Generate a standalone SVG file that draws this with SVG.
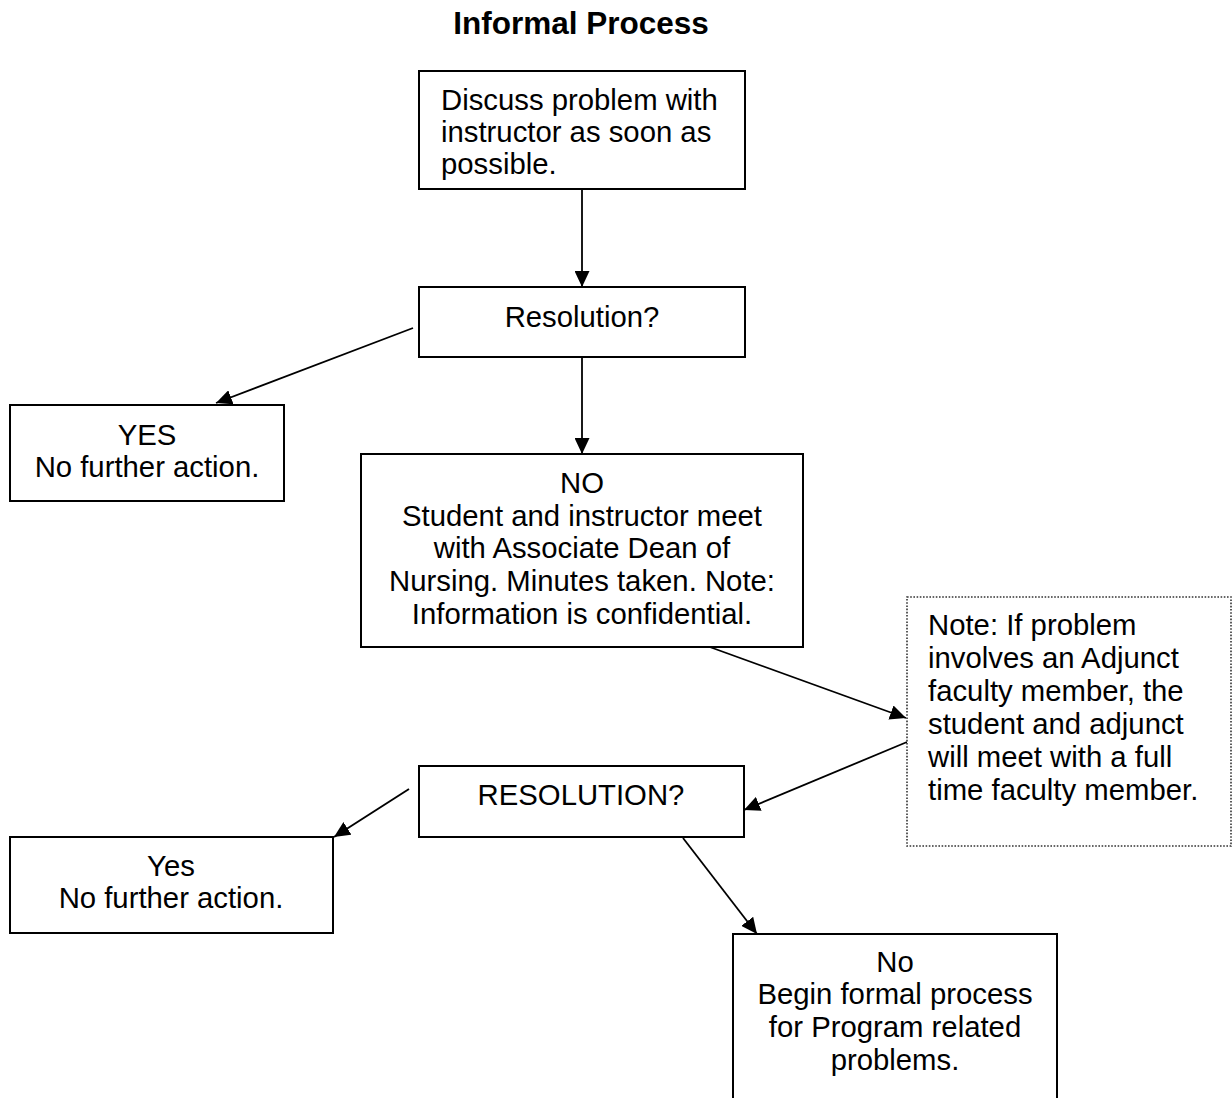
<svg xmlns="http://www.w3.org/2000/svg" width="1232" height="1098" viewBox="0 0 1232 1098">
<defs>
<style>
text{font-family:"Liberation Sans",Arial,sans-serif;font-size:29.3px;fill:#000}
.t{font-weight:bold;font-size:31.5px;text-anchor:middle}
.c{text-anchor:middle}
.box{fill:#fff;stroke:#000;stroke-width:2}
.dot{fill:#fff;stroke:#333;stroke-width:1.6;stroke-dasharray:1.6 1.6}
.con line{stroke:#000;stroke-width:1.8;marker-end:url(#ah)}
</style>
<marker id="ah" viewBox="0 0 16 15" refX="16" refY="7.5" markerWidth="16" markerHeight="15" markerUnits="userSpaceOnUse" orient="auto">
<path d="M0,0 L16,7.5 L0,15 z" fill="#000"/>
</marker>
</defs>
<rect width="1232" height="1098" fill="#fff"/>
<text class="t" x="581" y="34">Informal Process</text>

<g class="con" id="connectors">
<line x1="582" y1="189" x2="582" y2="287"/>
<line x1="413" y1="328" x2="216" y2="403"/>
<line x1="582" y1="357" x2="582" y2="454"/>
<line x1="707" y1="646" x2="906" y2="718"/>
<line x1="907" y1="742" x2="744" y2="810"/>
<line x1="409" y1="789" x2="334" y2="837"/>
<line x1="683" y1="838" x2="757" y2="934"/>
</g>

<g id="n1">
<rect class="box" x="419" y="71" width="326" height="118"/>
<text x="441" y="110">Discuss problem with</text>
<text x="441" y="142">instructor as soon as</text>
<text x="441" y="174">possible.</text>
</g>

<g id="n2">
<rect class="box" x="419" y="287" width="326" height="70"/>
<text class="c" x="582" y="327">Resolution?</text>
</g>

<g id="n3">
<rect class="box" x="10" y="405" width="274" height="96"/>
<text class="c" x="147" y="445">YES</text>
<text class="c" x="147" y="477">No further action.</text>
</g>

<g id="n4">
<rect class="box" x="361" y="454" width="442" height="193"/>
<text class="c" x="582" y="493">NO</text>
<text class="c" x="582" y="526">Student and instructor meet</text>
<text class="c" x="582" y="558">with Associate Dean of</text>
<text class="c" x="582" y="591">Nursing. Minutes taken. Note:</text>
<text class="c" x="582" y="624">Information is confidential.</text>
</g>

<g id="n5">
<rect class="dot" x="907" y="597" width="324" height="249"/>
<text x="928" y="635">Note: If problem</text>
<text x="928" y="668">involves an Adjunct</text>
<text x="928" y="701">faculty member, the</text>
<text x="928" y="734">student and adjunct</text>
<text x="928" y="767">will meet with a full</text>
<text x="928" y="800">time faculty member.</text>
</g>

<g id="n6">
<rect class="box" x="419" y="766" width="325" height="71"/>
<text class="c" x="581" y="805">RESOLUTION?</text>
</g>

<g id="n7">
<rect class="box" x="10" y="837" width="323" height="96"/>
<text class="c" x="171" y="876">Yes</text>
<text class="c" x="171" y="908">No further action.</text>
</g>

<g id="n8">
<rect class="box" x="733" y="934" width="324" height="170"/>
<text class="c" x="895" y="972">No</text>
<text class="c" x="895" y="1004">Begin formal process</text>
<text class="c" x="895" y="1037">for Program related</text>
<text class="c" x="895" y="1070">problems.</text>
</g>
</svg>
